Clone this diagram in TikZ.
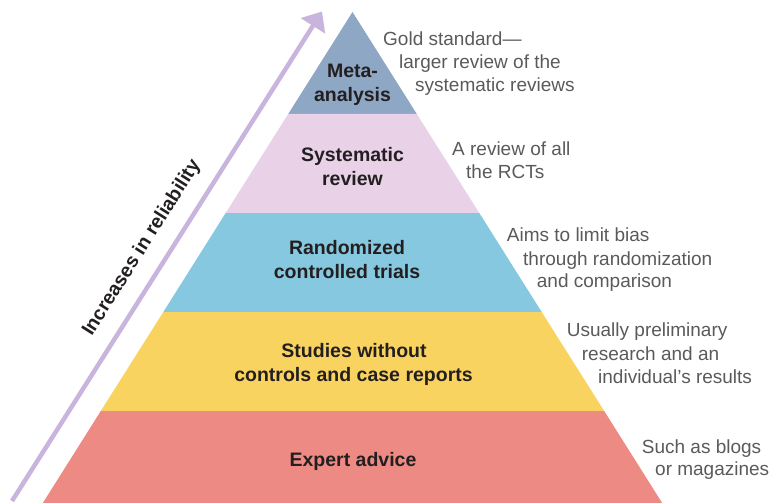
\documentclass[tikz,border=0pt]{standalone}
\usepackage{fontspec}
\setmainfont{Liberation Sans}
\usetikzlibrary{arrows.meta}
\definecolor{metac}{HTML}{8DA7C4}
\definecolor{sysc}{HTML}{E9D1E8}
\definecolor{rctc}{HTML}{86C8E0}
\definecolor{studc}{HTML}{F9D35F}
\definecolor{expc}{HTML}{EE8A84}
\definecolor{arrowc}{HTML}{C8B4DC}
\definecolor{darktext}{HTML}{231F20}
\definecolor{notetext}{HTML}{5A5A5A}
\tikzset{
  layerlabel/.style={anchor=base, inner sep=0pt, text=darktext, font=\bfseries\fontsize{19.5}{23}\selectfont},
  note/.style={anchor=base west, inner sep=0pt, text=notetext, font=\fontsize{19}{23}\selectfont},
  reliab/.style={draw=arrowc, line width=4.5pt, -{Triangle[length=17pt,width=28pt]}},
}
\begin{document}
\begin{tikzpicture}[x=1pt,y=-1pt]
\useasboundingbox (0,0) rectangle (772,503);
% pyramid layers
\fill[metac] (352.5,12) -- (416.8,114) -- (288.2,114) -- cycle;
\fill[sysc] (288.2,114) -- (416.8,114) -- (479.3,213) -- (225.7,213) -- cycle;
\fill[rctc] (225.7,213) -- (479.3,213) -- (541.7,312) -- (163.3,312) -- cycle;
\fill[studc] (163.3,312) -- (541.7,312) -- (604.2,411) -- (100.8,411) -- cycle;
\fill[expc] (100.8,411) -- (604.2,411) -- (662.2,503) -- (42.8,503) -- cycle;
% arrow
\coordinate (arrS) at (12,501);
\coordinate (arrE) at (322,11.5);
\draw[reliab] (arrS) -- (arrE);
\node[inner sep=0pt, text=darktext, font=\bfseries\fontsize{19.5}{23}\selectfont, rotate=57.7] (reliabtext) at (142,248) {Increases in reliability};
% layer labels
\node[layerlabel] (meta1) at (352.5,78) {Meta-};
\node[layerlabel] (meta2) at (352.5,102) {analysis};
\node[layerlabel] (sys1) at (352.5,161) {Systematic};
\node[layerlabel] (sys2) at (352.5,185) {review};
\node[layerlabel] (rct1) at (347,254.3) {Randomized};
\node[layerlabel] (rct2) at (347,278.3) {controlled trials};
\node[layerlabel] (stud1) at (354,357.7) {Studies without};
\node[layerlabel] (stud2) at (353.5,381.7) {controls and case reports};
\node[layerlabel] (exp1) at (353,466.7) {Expert advice};
% notes
\node[note] (n1a) at (383,46) {Gold standard—};
\node[note] (n1b) at (399,69) {larger review of the};
\node[note] (n1c) at (415,92) {systematic reviews};
\node[note] (n2a) at (452,155) {A review of all};
\node[note] (n2b) at (466,178.3) {the RCTs};
\node[note] (n3a) at (506.7,241.7) {Aims to limit bias};
\node[note] (n3b) at (523,265) {through randomization};
\node[note] (n3c) at (536.7,287.5) {and comparison};
\node[note] (n4a) at (566.7,336.7) {Usually preliminary};
\node[note] (n4b) at (581.7,360) {research and an};
\node[note] (n4c) at (598,383) {individual’s results};
\node[note] (n5a) at (641.7,453) {Such as blogs};
\node[note] (n5b) at (655,475.5) {or magazines};
\end{tikzpicture}
\end{document}
